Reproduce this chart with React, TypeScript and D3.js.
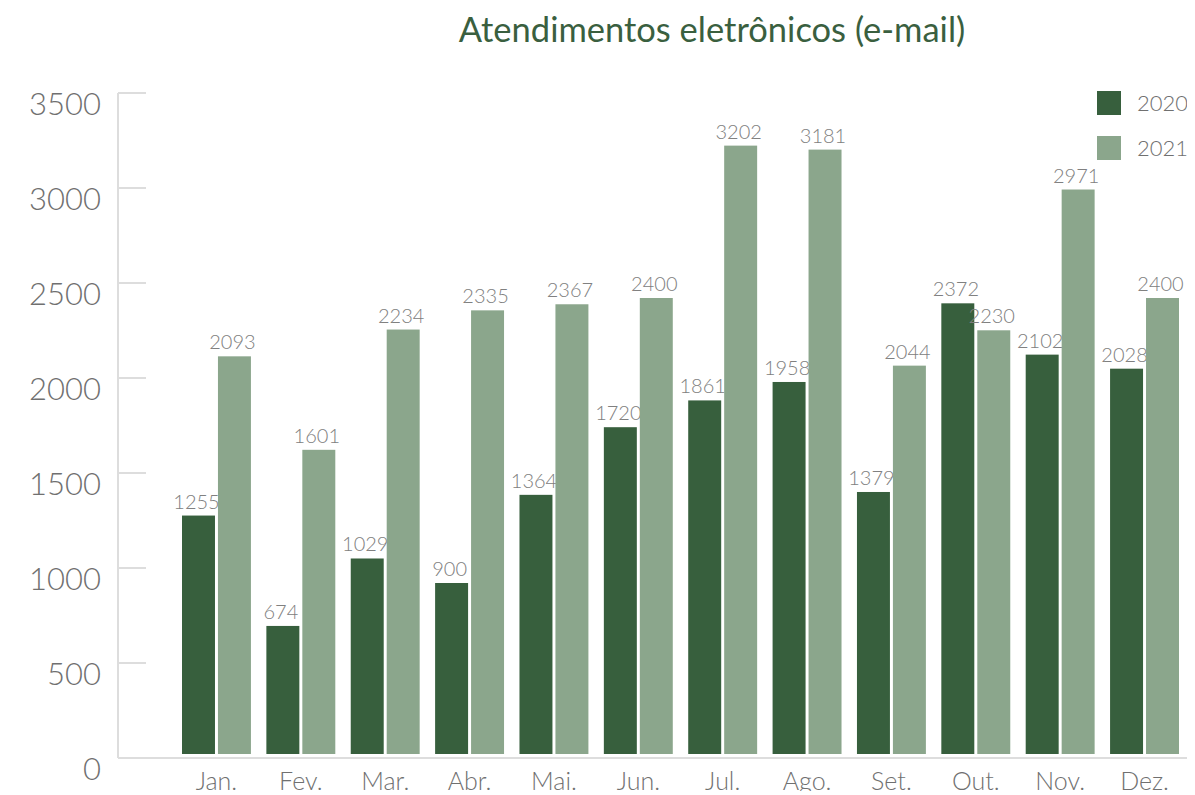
import React, { useRef, useEffect } from 'react';
import * as d3 from 'd3';

const months = ['Jan.', 'Fev.', 'Mar.', 'Abr.', 'Mai.', 'Jun.', 'Jul.', 'Ago.', 'Set.', 'Out.', 'Nov.', 'Dez.'];
const series = ['2020', '2021'];
const values2020 = [1255, 674, 1029, 900, 1364, 1720, 1861, 1958, 1379, 2372, 2102, 2028];
const values2021 = [2093, 1601, 2234, 2335, 2367, 2400, 3202, 3181, 2044, 2230, 2971, 2400];
const yTicks = [0, 500, 1000, 1500, 2000, 2500, 3000, 3500];

const colors = ['#375f3d', '#8ba68c'];
const font = 'Lato, "Open Sans", sans-serif';

export default function App() {
  const chartRef = useRef<SVGSVGElement>(null);
  const width = 1195;
  const height = 795;

  useEffect(() => {
    const svg = d3.select(chartRef.current);
    svg.selectAll('*').remove();

    const data = months.map((m, i) => ({ month: m, values: [values2020[i], values2021[i]] }));

    const x0 = d3.scaleBand().domain(months).range([182, 1179]).paddingInner(0.183).paddingOuter(0);
    const x1 = d3.scaleBand().domain(series).range([0, x0.bandwidth()]).paddingInner(0.083);
    const y = d3.scaleLinear().domain([0, 3500]).range([754, 89]);
    const off = 4; // axis ticks sit a little below bar zero

    // title
    svg.append('text')
      .attr('x', 712).attr('y', 42)
      .attr('text-anchor', 'middle')
      .attr('font-family', font)
      .attr('font-size', 34.5)
      .attr('fill', '#3a5f3f')
      .text('Atendimentos eletrônicos (e-mail)');

    // y axis
    const axisG = svg.append('g');
    axisG.append('line')
      .attr('x1', 118).attr('x2', 118)
      .attr('y1', y(3500) + off).attr('y2', y(0) + off)
      .attr('stroke', '#dddddd').attr('stroke-width', 2);
    axisG.selectAll('line.tick').data(yTicks).join('line')
      .attr('class', 'tick')
      .attr('x1', 118).attr('x2', 146)
      .attr('y1', (d) => y(d) + off).attr('y2', (d) => y(d) + off)
      .attr('stroke', '#dddddd').attr('stroke-width', 2);
    axisG.selectAll('text').data(yTicks).join('text')
      .attr('x', 101)
      .attr('y', (d) => y(d) + off + 22)
      .attr('text-anchor', 'end')
      .attr('font-family', font)
      .attr('font-weight', 300)
      .attr('font-size', 31)
      .attr('fill', '#707070')
      .text((d) => d);

    // x axis
    svg.append('line')
      .attr('x1', 118).attr('x2', 1192)
      .attr('y1', y(0) + off).attr('y2', y(0) + off)
      .attr('stroke', '#dddddd').attr('stroke-width', 2);
    svg.append('g').selectAll('text').data(months).join('text')
      .attr('x', (d) => (x0(d) as number) + x0.bandwidth() / 2)
      .attr('y', 790)
      .attr('text-anchor', 'middle')
      .attr('font-family', font)
      .attr('font-weight', 300)
      .attr('font-size', 25)
      .attr('fill', '#707070')
      .text((d) => d);

    // bars
    const groups = svg.append('g').selectAll('g').data(data).join('g')
      .attr('transform', (d) => `translate(${x0(d.month)},0)`);
    const cells = groups.selectAll('g').data((d) => d.values.map((v, i) => ({ key: series[i], v, i }))).join('g');
    cells.append('rect')
      .attr('x', (d) => x1(d.key) as number)
      .attr('width', x1.bandwidth())
      .attr('y', (d) => y(d.v))
      .attr('height', (d) => y(0) - y(d.v))
      .attr('fill', (d) => colors[d.i]);
    cells.append('text')
      .attr('x', (d) => (x1(d.key) as number) + x1.bandwidth() / 2 - 2)
      .attr('y', (d) => y(d.v) - 7)
      .attr('text-anchor', 'middle')
      .attr('font-family', font)
      .attr('font-weight', 300)
      .attr('font-size', 20)
      .attr('fill', '#808080')
      .text((d) => d.v);

    // legend
    const legend = svg.append('g').selectAll('g').data(series).join('g')
      .attr('transform', (d, i) => `translate(1097,${91 + i * 45})`);
    legend.append('rect')
      .attr('width', 24).attr('height', 24)
      .attr('fill', (d, i) => colors[i]);
    legend.append('text')
      .attr('x', 40).attr('y', 20)
      .attr('font-family', font)
      .attr('font-weight', 300)
      .attr('font-size', 22)
      .attr('fill', '#707070')
      .text((d) => d);
  }, []);

  return (
    <div style={{ margin: -8 }}>
      <svg ref={chartRef} width={width} height={height}></svg>
    </div>
  );
}
